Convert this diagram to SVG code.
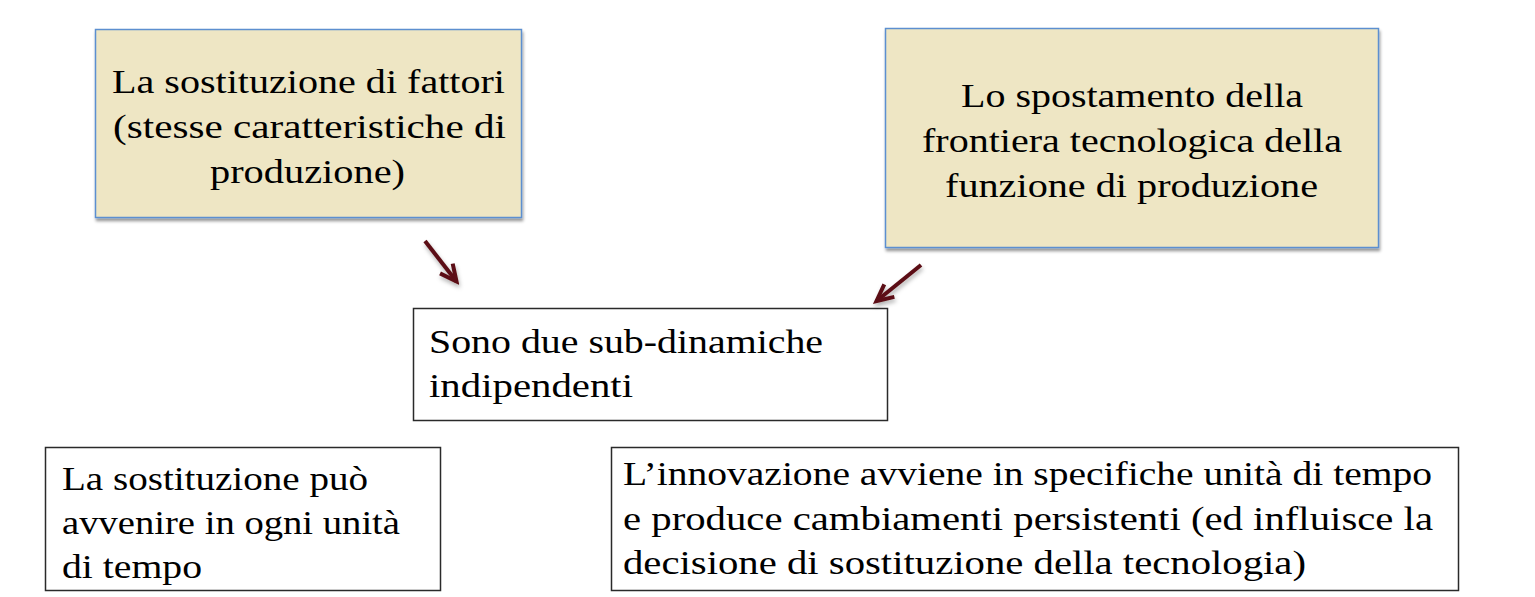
<svg xmlns="http://www.w3.org/2000/svg" width="1535" height="597" viewBox="0 0 1535 597">
<style>
  text { font-family: "Liberation Serif", "Times New Roman", serif; font-size: 33px; fill: #000; }
  .tan { fill: #eee6c4; stroke: #5b8fd0; stroke-width: 1.5; }
  .plain { fill: #fff; stroke: #2a2a2a; stroke-width: 1.5; }
  .arrow { stroke: #5b0f14; stroke-width: 4; fill: none; }
</style>
<defs>
  <filter id="shadow" x="-10%" y="-10%" width="130%" height="130%">
    <feDropShadow dx="1" dy="3" stdDeviation="1.5" flood-color="#000" flood-opacity="0.4"/>
  </filter>
  <filter id="ashadow" x="-30%" y="-30%" width="160%" height="160%">
    <feDropShadow dx="1" dy="3" stdDeviation="2" flood-color="#000" flood-opacity="0.3"/>
  </filter>
  <marker id="head" markerUnits="userSpaceOnUse" viewBox="-20 -12 24 24" refX="0" refY="0" markerWidth="24" markerHeight="24" orient="auto">
    <path d="M-16.5,-8 L0,0 L-16.5,8" fill="none" stroke="#5b0f14" stroke-width="4" stroke-linejoin="miter"/>
  </marker>
</defs>
<rect width="1535" height="597" fill="#fff"/>

<g id="node-sostituzione-fattori">
  <rect class="tan" x="95.5" y="29.5" width="426" height="188" filter="url(#shadow)"/>
  <text x="112" y="92.5" textLength="393" lengthAdjust="spacingAndGlyphs">La sostituzione di fattori</text>
  <text x="113" y="138" textLength="393" lengthAdjust="spacingAndGlyphs">(stesse caratteristiche di</text>
  <text x="210" y="183" textLength="195" lengthAdjust="spacingAndGlyphs">produzione)</text>
</g>

<g id="node-spostamento-frontiera">
  <rect class="tan" x="885.5" y="28.5" width="493" height="219" filter="url(#shadow)"/>
  <text x="961" y="107" textLength="342" lengthAdjust="spacingAndGlyphs">Lo spostamento della</text>
  <text x="922" y="152" textLength="420" lengthAdjust="spacingAndGlyphs">frontiera tecnologica della</text>
  <text x="945" y="196.5" textLength="373" lengthAdjust="spacingAndGlyphs">funzione di produzione</text>
</g>

<g id="node-sub-dinamiche">
  <rect class="plain" x="413.5" y="308.5" width="474" height="112"/>
  <text x="429" y="353" textLength="394" lengthAdjust="spacingAndGlyphs">Sono due sub-dinamiche</text>
  <text x="429" y="397" textLength="204" lengthAdjust="spacingAndGlyphs">indipendenti</text>
</g>

<g id="node-sostituzione-tempo">
  <rect class="plain" x="45.5" y="447.5" width="395" height="143"/>
  <text x="62" y="490" textLength="306" lengthAdjust="spacingAndGlyphs">La sostituzione può</text>
  <text x="62" y="534" textLength="338" lengthAdjust="spacingAndGlyphs">avvenire in ogni unità</text>
  <text x="62" y="578" textLength="140" lengthAdjust="spacingAndGlyphs">di tempo</text>
</g>

<g id="node-innovazione">
  <rect class="plain" x="611.5" y="447.5" width="847" height="143"/>
  <text x="623" y="485" textLength="809" lengthAdjust="spacingAndGlyphs">L’innovazione avviene in specifiche unità di tempo</text>
  <text x="623" y="530" textLength="810" lengthAdjust="spacingAndGlyphs">e produce cambiamenti persistenti (ed influisce la</text>
  <text x="623" y="574" textLength="683" lengthAdjust="spacingAndGlyphs">decisione di sostituzione della tecnologia)</text>
</g>

<g id="connectors" filter="url(#ashadow)">
  <line class="arrow" x1="425" y1="241" x2="456.5" y2="281.5" marker-end="url(#head)"/>
  <line class="arrow" x1="921" y1="265" x2="876.5" y2="301" marker-end="url(#head)"/>
</g>
</svg>
